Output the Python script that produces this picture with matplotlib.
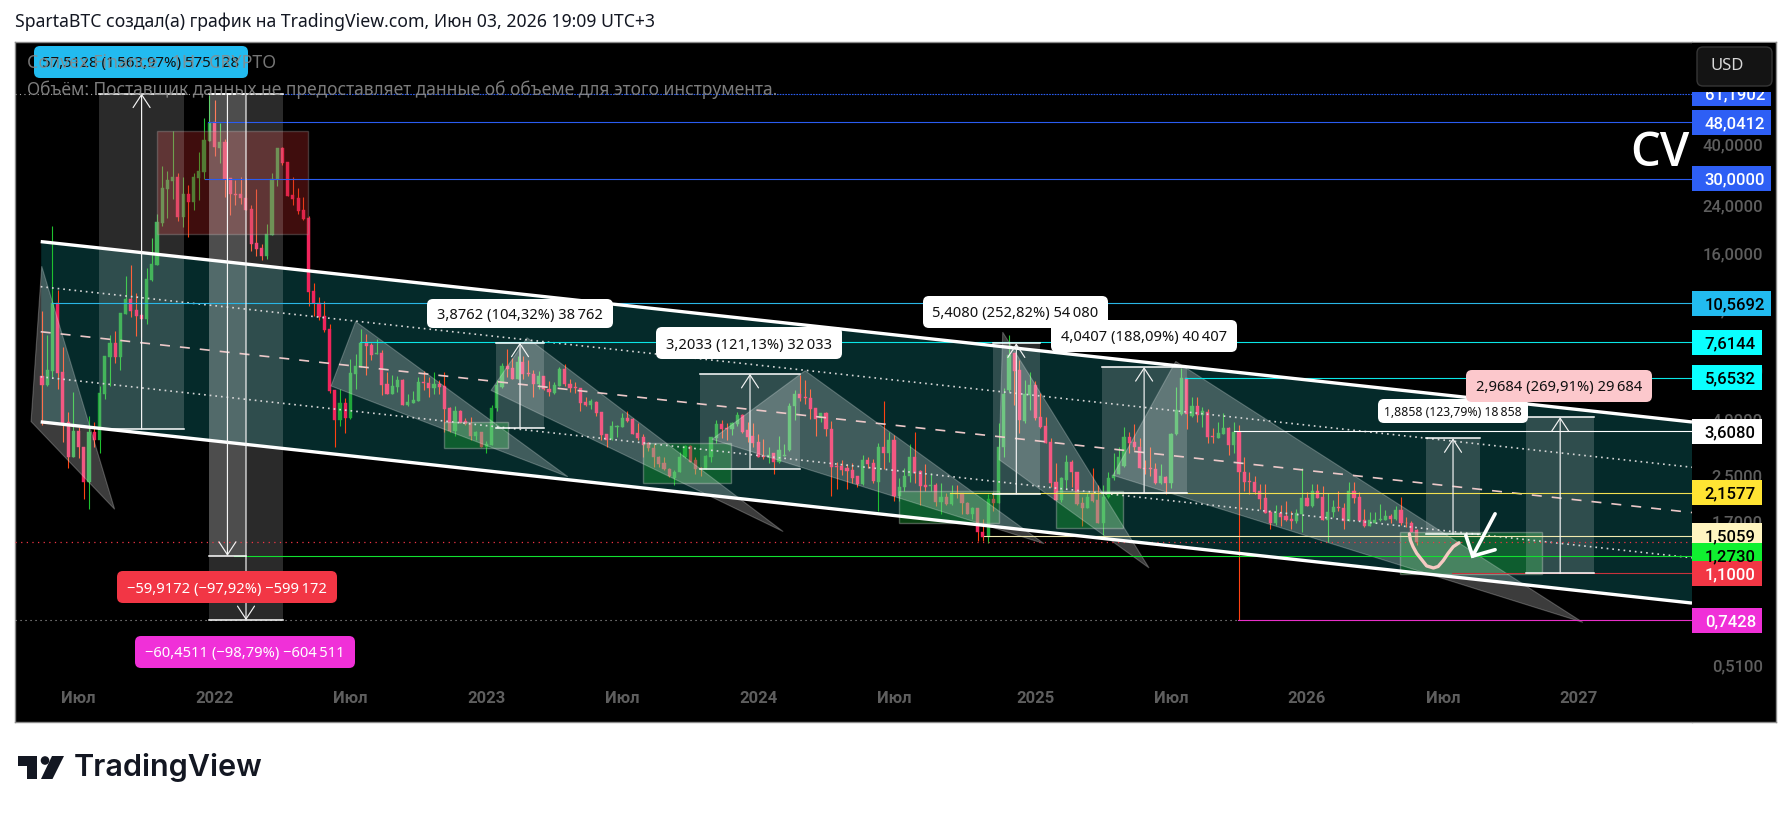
import numpy as np
import matplotlib
matplotlib.use("Agg")
import matplotlib.pyplot as plt
from matplotlib.patches import Rectangle, Polygon, FancyBboxPatch, Circle

plt.rcParams['font.family'] = ['Noto Sans', 'DejaVu Sans']

# ---- weekly candles: week index 0 = May 2021 ----
week_high = [9.9,8.09,20.2,11.8,7.33,4.26,5.03,3.75,3.18,4.12,
 3.91,5.29,6.8,8.09,8.38,9.75,13.3,14.5,11.5,10.6,
 14.2,18.2,22.3,33.3,32.0,44.7,31.4,30.5,28.4,31.4,
 37.5,49.9,60.6,57.9,47.8,41.7,30.2,29.7,30.5,30.2,
 24.1,27.5,17.4,20.5,31.4,38.7,39.0,34.5,30.5,27.8,
 25.7,22.0,12.5,11.1,10.8,8.89,5.11,5.15,4.79,6.63,
 6.92,8.52,8.17,7.58,7.83,7.15,5.95,5.8,5.74,5.6,
 4.95,5.07,5.7,6.0,5.7,5.95,5.55,5.95,4.44,4.47,
 4.33,4.05,4.08,3.63,3.6,3.34,4.5,5.55,6.41,7.21,
 6.69,6.8,6.8,6.58,6.05,6.0,5.74,5.51,5.47,6.2,
 6.36,5.6,5.47,5.2,4.83,4.75,4.67,4.26,3.54,3.94,
 3.82,4.22,4.29,4.05,3.88,3.54,3.31,3.25,2.95,2.92,
 2.66,2.62,3.05,3.23,3.23,2.92,2.69,2.97,3.45,3.98,
 3.98,3.88,3.91,4.26,4.19,3.91,3.88,3.54,3.39,3.16,
 3.02,3.48,3.25,4.59,5.11,5.8,5.55,5.15,4.4,4.22,
 4.26,3.94,2.8,2.85,2.74,2.78,2.48,2.97,2.92,2.87,
 3.28,4.67,3.6,3.51,2.44,2.66,3.25,3.6,2.62,2.74,
 2.54,2.35,2.35,2.16,2.31,2.31,2.16,2.0,1.92,1.9,
 1.74,2.14,2.18,3.88,5.2,8.09,6.98,6.58,5.55,5.95,
 5.51,4.99,4.08,3.42,2.78,2.46,2.97,2.83,2.56,2.09,
 2.18,2.66,2.31,2.31,2.56,3.0,3.18,3.75,3.6,3.85,
 3.42,2.85,3.16,2.76,2.74,2.48,3.57,5.24,6.15,5.65,
 4.83,4.83,4.44,4.37,3.72,3.91,4.22,3.75,3.91,3.82,
 2.92,2.56,2.48,2.33,2.33,1.87,1.95,1.95,2.02,1.86,
 1.89,2.66,2.18,2.33,2.33,2.29,2.16,2.03,2.2,1.98,
 2.37,2.37,2.18,1.89,1.84,1.84,1.97,1.87,1.81,1.94,
 2.09,1.76,1.7,1.6]
body_top = [5.74,6.05,10.6,10.6,5.95,3.91,3.63,3.63,3.18,3.60,
 3.6,4.99,6.8,7.58,7.58,9.75,10.9,10.9,10.0,9.59,
 12.9,14.7,20.9,27.8,29.7,30.5,30.5,26.4,26.4,30.5,
 32.0,41.4,47.8,48.2,40.7,40.7,30.2,26.4,26.4,25.5,
 23.3,17.5,16.8,18.9,30.0,38.7,38.7,34.5,26.1,25.5,
 23.1,21.6,11.7,10.6,9.51,8.52,5.11,4.59,4.59,5.9,
 6.26,7.58,7.65,7.46,6.98,6.98,5.38,5.29,5.55,5.55,
 4.63,4.71,5.47,5.47,5.43,5.38,5.38,5.29,4.4,4.29,
 4.29,3.94,3.88,3.6,3.6,3.25,4.4,5.33,6.26,6.26,
 6.15,6.47,6.47,5.9,5.85,5.74,5.74,5.15,5.33,6.1,
 6.1,5.38,5.24,5.2,4.63,4.67,4.63,4.26,3.54,3.79,
 3.79,4.05,4.05,4.01,3.57,3.45,3.28,3.13,2.92,2.76,
 2.64,2.58,2.92,3.2,3.2,2.85,2.66,2.95,3.45,3.85,
 3.85,3.72,3.88,4.15,4.15,3.66,3.48,3.31,2.95,2.97,
 3.0,3.1,2.97,4.47,4.95,4.95,4.83,4.79,4.4,4.22,
 4.22,3.69,2.71,2.71,2.66,2.62,2.48,2.85,2.85,2.76,
 3.16,3.16,3.37,3.37,2.27,2.48,2.92,2.92,2.6,2.31,
 2.31,2.31,2.09,2.09,2.16,2.16,2.16,1.98,1.9,1.9,
 1.56,2.05,2.05,3.18,4.95,6.86,6.98,6.05,4.95,5.33,
 5.33,4.08,3.79,3.31,2.37,2.44,2.8,2.8,2.56,1.98,
 2.09,2.16,2.03,2.09,2.44,2.5,2.92,3.45,3.45,3.31,
 3.18,2.66,2.66,2.64,2.48,2.46,3.54,4.33,5.65,5.65,
 4.47,4.47,4.29,4.26,3.48,3.57,3.72,3.72,3.6,3.6,
 2.58,2.39,2.37,2.2,2.07,1.84,1.83,1.83,1.78,1.74,
 1.83,2.07,2.07,2.2,2.2,2.09,1.84,1.92,1.92,1.9,
 2.2,2.2,2.09,1.72,1.72,1.72,1.74,1.78,1.78,1.87,
 1.87,1.68,1.67,1.58]
body_bottom = [5.33,5.33,6.0,5.9,3.88,2.92,2.92,3.16,2.37,2.37,
 3.37,3.37,4.95,6.74,6.74,6.74,9.67,9.9,9.51,9.27,
 9.27,12.8,14.6,20.7,27.5,29.4,21.8,21.8,24.7,24.7,
 30.2,31.7,41.0,39.0,38.7,30.0,26.4,26.1,25.5,23.1,
 17.4,16.7,15.7,15.7,18.7,30.0,34.2,25.9,25.3,22.9,
 21.4,11.6,10.6,9.43,8.45,5.07,3.98,3.98,4.05,4.05,
 5.85,6.2,7.4,6.86,6.92,5.33,4.95,4.95,5.24,4.5,
 4.5,4.59,4.67,5.43,5.2,5.2,5.24,4.37,3.63,3.63,
 3.88,3.85,3.48,3.48,3.18,3.18,3.23,4.4,5.24,6.1,
 5.6,5.6,5.85,5.85,5.38,5.38,5.15,5.03,4.99,5.29,
 5.38,5.2,5.2,4.59,4.5,4.5,4.22,3.51,3.37,3.39,
 3.75,3.75,3.94,3.54,3.42,3.23,3.13,2.92,2.74,2.64,
 2.48,2.44,2.56,2.92,2.8,2.64,2.64,2.64,2.92,3.42,
 3.69,3.69,3.69,3.85,3.6,3.45,3.28,2.92,2.92,2.92,
 2.8,2.8,2.95,3.1,4.47,4.79,4.79,4.37,4.01,4.05,
 3.69,2.69,2.69,2.62,2.6,2.44,2.33,2.33,2.74,2.39,
 2.37,3.02,3.02,2.11,2.11,2.27,2.48,2.54,2.29,2.27,
 2.29,2.0,2.0,1.97,1.97,2.14,1.98,1.81,1.81,1.55,
 1.49,1.49,1.98,1.98,3.18,5.11,6.0,3.98,3.94,4.9,
 4.05,3.75,3.28,2.35,2.03,2.03,2.41,2.56,1.97,1.9,
 1.9,2.02,1.68,1.68,2.09,2.44,2.52,2.71,3.28,3.16,
 2.66,2.64,2.64,2.35,2.35,2.35,2.35,3.54,4.19,4.19,
 4.12,4.15,4.15,3.45,3.45,3.42,3.54,3.23,3.23,2.56,
 2.37,2.37,2.18,2.05,1.83,1.67,1.67,1.76,1.72,1.7,
 1.7,1.81,1.94,1.94,2.07,1.72,1.72,1.84,1.9,1.71,
 1.71,2.07,1.71,1.63,1.63,1.68,1.72,1.72,1.74,1.74,
 1.67,1.67,1.56,1.43]
week_low = [3.82,5.29,5.7,5.15,3.31,2.66,2.92,2.89,2.05,1.89,
 3.18,3.02,4.75,5.29,6.41,6.05,9.67,9.43,8.05,7.98,
 8.89,12.7,14.6,20.2,21.6,25.3,21.1,20.0,18.4,23.1,
 25.1,30.0,41.0,36.2,34.2,25.7,22.2,24.1,24.3,23.1,
 16.4,15.7,15.2,15.3,18.7,28.1,33.6,25.9,24.1,22.3,
 21.2,10.3,9.51,9.2,8.31,4.99,3.16,3.79,3.57,4.01,
 5.15,6.2,5.8,6.58,6.92,4.9,4.95,4.95,5.03,4.5,
 4.47,4.59,4.67,5.11,4.83,4.95,4.95,3.6,3.6,3.48,
 3.88,3.82,3.37,3.37,3.18,3.0,3.23,4.29,5.2,5.7,
 5.6,5.6,5.6,5.74,4.83,5.15,5.11,4.87,4.95,5.29,
 5.29,5.03,4.99,4.29,4.47,4.37,4.12,3.37,3.16,3.37,
 3.45,3.75,3.91,3.54,3.37,2.92,3.07,2.69,2.69,2.62,
 2.46,2.31,2.56,2.89,2.8,2.52,2.48,2.64,2.8,3.28,
 3.42,3.37,3.51,3.79,3.57,3.31,3.16,2.92,2.87,2.78,
 2.52,2.78,2.95,3.07,3.98,4.67,4.54,4.01,3.48,3.91,
 3.48,2.11,2.23,2.5,2.22,2.35,2.27,2.31,2.66,2.35,
 1.86,2.64,2.8,2.02,2.02,2.2,2.37,2.35,1.95,2.2,
 2.2,1.94,1.8,1.95,1.95,2.07,1.8,1.8,1.74,1.44,
 1.44,1.42,1.86,1.98,2.92,5.03,4.5,3.57,3.88,4.33,
 3.98,3.72,3.28,2.27,2.03,2.0,2.22,2.27,1.95,1.63,
 1.9,2.0,1.67,1.51,2.07,2.41,2.52,2.69,3.02,3.1,
 2.66,2.52,2.48,2.33,2.33,2.14,2.25,3.51,4.15,3.69,
 4.08,3.91,3.75,3.28,3.28,3.42,3.54,2.97,3.02,0.7428,
 2.2,2.14,2.14,1.89,1.83,1.59,1.65,1.63,1.7,1.59,
 1.68,1.56,1.94,1.92,2.07,1.72,1.43,1.76,1.86,1.6,
 1.7,1.98,1.71,1.62,1.63,1.68,1.71,1.72,1.68,1.72,
 1.65,1.62,1.56,1.39]
week_dir = ("DUUDDDUDDU" "DUUUDUUDDD" "UUUUUUDUDU" "UUUDUDDDDD" "DDDUUUDDDD"
            "DDDDDDDUDU" "UUDDUDDUUD" "UUUDDUDDDU" "DDDUDUUUUD" "DUDDDUDDUU"
            "DDDDDUDDDU" "UUDDDDDDDD" "DUUUDDDUUU" "DDUUDDDDDU" "DUUUUDDDDU"
            "DDDDDDDUDD" "UDUDUUUDDD" "UDUDUDDDUD" "DUDUUUDDUU" "DDDDDUUDDD"
            "UDDUUUUUDD" "DDDDUDUUUD" "UDUDDUUDUD" "DDDDDDUDDD" "UUDUDDUUDD"
            "UDDDUUUUDU" "DDDD")

# ---- channel (week, price at upper / lower rail) ----
channel_weeks = [-0.25, 315.67]
channel_upper = [17.7, 3.906]
channel_lower = [3.91, 0.857]

# ---- price levels: value, first week, colour ----
level_values = [61.1902, 48.0412, 30.0, 10.5692, 7.6144, 5.6532, 3.608, 2.1577, 1.5059, 1.273, 1.1, 0.7428]
level_start = [46.0, 31.8, 31.2, 1.9, 60.8, 218.7, 228.0, 173.7, 180.2, 36.7, 269.8, 228.8]
level_colors = ['#2a5cf0','#2a5cf0','#2a5cf0','#29b6e6','#0ae6e6','#0ae6e6','#ffffff','#f2e050','#f2eab0','#12e030','#c8323c','#e82fc8']
level_label_text = ['61,1902','48,0412','30,0000','10,5692','7,6144','5,6532','3,6080','2,1577','1,5059','1,2730','1,1000','0,7428']
level_label_bg = ['#2e5ff5','#2e5ff5','#2e5ff5','#22bbf0','#0affff','#0affff','#ffffff','#ffe433','#fff5c0','#10f030','#f23645','#f030d8']
level_label_fg = ['white','white','white','black','black','black','black','black','black','black','white','white']
last_price = 1.427
low_dotted = 0.7428

# ---- measure boxes: week range, base and target price ----
measure_left = [10.9, 86.9, 125.9, 181.9, 202.7, 264.8, 283.9]
measure_right = [27.2, 96.0, 145.0, 190.9, 219.0, 275.1, 297.0]
measure_base = [3.6774, 3.7157, 2.6445, 2.1391, 2.1483, 1.5234, 1.0998]
measure_top = [61.1902, 7.5919, 5.8478, 7.5471, 6.189, 3.4092, 4.0682]
drop_left = [31.95, 31.95]
drop_right = [39.0, 46.1]
drop_start = [61.1902, 61.1902]
drop_end = [1.273, 0.7428]

# ---- zones: week range, upper and lower price ----
sell_zone = [22.06, 50.95, 44.6, 18.8]
buy_left = [77.0, 115.0, 164.0, 193.9, 259.9]
buy_right = [89.1, 131.9, 183.0, 206.9, 286.9]
buy_upper = [3.90, 3.28, 2.20, 2.20, 1.555]
buy_lower = [3.13, 2.34, 1.67, 1.61, 1.095]

# ---- triangles: three (week, price) corners ----
tri_weeks = [[-0.06,-2.1,13.9],[60.0,55.3,100.6],[92.8,85.9,141.8],[146.0,128.2,191.7],[183.8,183.1,211.8],[216.9,204.9,294.8]]
tri_prices = [[14.4,3.92,1.88],[9.06,5.28,2.47],[7.91,5.09,1.56],[6.0,3.38,1.41],[8.29,2.85,1.15],[6.49,2.50,0.729]]

# ---- hand drawn sketch ----
sketch_weeks = [261.6,261.8,262.3,263,264,264.9,266.2,267.1,268.1,269,270,271.1]
sketch_prices = [1.53,1.45,1.375,1.30,1.23,1.17,1.15,1.165,1.225,1.30,1.375,1.42]
pen_shaft_weeks = [278.0, 273.7]
pen_shaft_prices = [1.81, 1.27]
pen_barb_weeks = [272.4, 273.7, 278.0]
pen_barb_prices = [1.51, 1.27, 1.34]

# ---- axes labels ----
x_ticks = [7,33,59,85,111,137,163,190,216,242,268,294]
x_labels = ['Июл','2022','Июл','2023','Июл','2024','Июл','2025','Июл','2026','Июл','2027']
y_ticks = [40,24,16,10,6,4,2.5,1.7,0.51]
y_labels = ['40,0000','24,0000','16,0000','10,0000','6,0000','4,0000','2,5000','1,7000','0,5100']

W, H = 1791, 814
BLACK = 'black'
AXIS_FONT = ['Roboto', 'DejaVu Sans']
fig = plt.figure(figsize=(W/100, H/100), dpi=100, facecolor='white')
def frac(x0, y0, x1, y1):
    return [x0/W, 1-y1/H, (x1-x0)/W, (y1-y0)/H]

ax = fig.add_axes(frac(15, 42, 1692, 722), facecolor=BLACK)
ax_r = fig.add_axes(frac(1692, 42, 1776, 722), facecolor=BLACK)
ov = fig.add_axes([0, 0, 1, 1], facecolor='none')
ov.set_xlim(0, W); ov.set_ylim(H, 0); ov.axis('off')

YLIM = (0.3165, 94.2)
XLIM = (-5.17, 315.67)
for a in (ax, ax_r):
    a.set_yscale('log'); a.set_ylim(*YLIM)
    a.minorticks_off()
ax.set_xlim(*XLIM)
ax_r.set_xlim(0, 84)

# channel
cu = np.array(channel_upper); cl = np.array(channel_lower)
ax.fill_between(channel_weeks, cl, cu, color='#052a2a', lw=0, zorder=1)
# candles
wk = np.arange(len(week_high))
up = np.array([c == 'U' for c in week_dir])
hi, lo, bt, bb = map(np.array, (week_high, week_low, body_top, body_bottom))
for mask, wick, body in ((up, '#1ec02e', '#1fa63a'), (~up, '#ff4212', '#f0245c')):
    ax.vlines(wk[mask], lo[mask], hi[mask], color=wick, lw=0.8, zorder=2)
    ax.bar(wk[mask], bt[mask]-bb[mask], bottom=bb[mask], width=0.6, color=body,
           edgecolor=body, linewidth=0.3, zorder=2.1)

# zones
x0, x1, yt, yb = sell_zone
ax.add_patch(Rectangle((x0, yb), x1-x0, yt-yb, fc='#c02828', ec='#999999', alpha=0.33, lw=1, zorder=3))
for l, r, t, b in zip(buy_left, buy_right, buy_upper, buy_lower):
    ax.add_patch(Rectangle((l, b), r-l, t-b, fc='#1fb83a', ec='#cccccc', alpha=0.36, lw=1, zorder=3))
# triangles
for tw, tp in zip(tri_weeks, tri_prices):
    ax.add_patch(Polygon(np.c_[tw, tp], closed=True, fc='white', ec='white', alpha=0.24, lw=0.8, zorder=3.1))

# channel rails
cm = np.sqrt(cu*cl)
cq1 = np.sqrt(cu*cm); cq3 = np.sqrt(cm*cl)
ax.plot(channel_weeks, cu, color='white', lw=2.4, zorder=5, solid_capstyle='butt')
ax.plot(channel_weeks, cl, color='white', lw=2.4, zorder=5, solid_capstyle='butt')
ax.plot(channel_weeks, cq1, color='#d8d8d8', lw=1.2, ls=(0, (1, 2.4)), zorder=4)
ax.plot(channel_weeks, cq3, color='#d8d8d8', lw=1.2, ls=(0, (1, 2.4)), zorder=4)
ax.plot(channel_weeks, cm, color='#ecc8c8', lw=1.2, ls=(0, (6, 6)), zorder=4)

# levels
for v, s, c in zip(level_values, level_start, level_colors):
    if v == level_values[0]:
        ax.plot([s, XLIM[1]], [v, v], color=c, lw=0.8, ls=(0, (1.5, 1)), zorder=4)
        ax.plot([XLIM[0], s], [v, v], color='#aaaaaa', lw=0.8, ls=(0, (1, 3)), zorder=4)
    else:
        ax.plot([s, XLIM[1]], [v, v], color=c, lw=0.8, zorder=4)
ax.plot(XLIM, [last_price]*2, color='#f23645', lw=0.9, ls=(0, (1, 3.5)), zorder=4)
ax.plot([XLIM[0], level_start[-1]], [low_dotted]*2, color='#aaaaaa', lw=0.8, ls=(0, (1, 3.5)), zorder=4)

# measure tools
arrow = dict(arrowstyle='->,head_length=0.55,head_width=0.36', color='#f4f4f4', lw=0.85,
             shrinkA=0, shrinkB=0, mutation_scale=17)
for l, r, b, t in zip(measure_left, measure_right, measure_base, measure_top):
    ax.add_patch(Rectangle((l, b), r-l, t-b, fc='white', ec='none', alpha=0.17, zorder=3.2))
    ax.plot([l, r], [t, t], color='white', lw=1.1, zorder=5)
    ax.plot([l, r], [b, b], color='white', lw=1.1, zorder=5)
    ax.annotate('', xy=((l+r)/2, t), xytext=((l+r)/2, b), arrowprops=arrow, zorder=5)
for l, r, s, e in zip(drop_left, drop_right, drop_start, drop_end):
    ax.add_patch(Rectangle((l, e), r-l, s-e, fc='white', ec='none', alpha=0.17, zorder=3.2))
    ax.plot([l, r], [s, s], color='white', lw=1.1, zorder=5)
    ax.plot([l, r], [e, e], color='white', lw=1.1, zorder=5)
    ax.annotate('', xy=((l+r)/2, e), xytext=((l+r)/2, s), arrowprops=arrow, zorder=5)

# sketch
ax.plot(sketch_weeks, sketch_prices, color='#f6c9c2', lw=2.4, zorder=6, solid_capstyle='round')
ax.plot(pen_shaft_weeks, pen_shaft_prices, color='white', lw=2.6, zorder=6, solid_capstyle='round')
ax.plot(pen_barb_weeks, pen_barb_prices, color='white', lw=2.6, zorder=6, solid_capstyle='round', solid_joinstyle='miter')

# axes cosmetics
ax.set_xticks(x_ticks)
ax.set_xticklabels(x_labels, fontsize=12, fontweight='bold', color='#5e5e5e', family=AXIS_FONT)
ax.tick_params(axis='x', length=0, pad=-22)
ax.set_yticks([]); ax.tick_params(axis='y', which='both', length=0, labelleft=False)
for s in ax.spines.values():
    s.set_color('#8a8a8a'); s.set_linewidth(1)
ax.spines['right'].set_visible(False)

ax_r.set_axisbelow(True)
ax_r.set_xticks([])
ax_r.set_yticks(y_ticks)
ax_r.set_yticklabels(y_labels, fontsize=12, color='#5e5e5e', fontweight=500, family=AXIS_FONT)
ax_r.tick_params(axis='y', which='both', length=0, pad=-51)
for s in ax_r.spines.values():
    s.set_color('#8a8a8a'); s.set_linewidth(1)
ax_r.spines['left'].set_visible(False)

PX_PER_LOG = 119.4
half = np.exp(12.5/PX_PER_LOG)
for v, t, bg, fg in zip(level_values, level_label_text, level_label_bg, level_label_fg):
    w = 79 if v > 8 else 70
    ax_r.add_patch(Rectangle((0, v/half), w, v*half-v/half, fc=bg, ec='none', zorder=3))
    ax_r.text(12.7, v, t, ha='left', va='center_baseline', fontsize=12, fontweight=500,
              family=AXIS_FONT, color=fg, zorder=4)

# ---- overlay: title, pills, legend text, logo ----
ov.text(15, 22, 'SpartaBTC создал(а) график на TradingView.com, Июн 03, 2026 19:09 UTC+3',
        fontsize=12.7, color='#131722', va='center', ha='left')

def pill(x0, y0, x1, y1, txt, bg, fg, size=11):
    ov.add_patch(FancyBboxPatch((x0, y0), x1-x0, y1-y0, boxstyle='round,pad=0,rounding_size=6',
                                mutation_scale=1, fc=bg, ec='none', zorder=6))
    ov.text((x0+x1)/2, (y0+y1)/2, txt, ha='center', va='center_baseline', fontsize=size, color=fg, zorder=7)

pill(34, 46, 248, 78, '57,5128 (1\u2009563,97%) 575\u2009128', '#22bbf0', '#111111', size=10.8)
pill(117, 571, 337, 603, '\u221259,9172 (\u221297,92%) \u2212599\u2009172', '#f23645', 'white', size=10.6)
pill(135, 636, 355, 668, '\u221260,4511 (\u221298,79%) \u2212604\u2009511', '#f030d8', 'white', size=10.6)
pill(427, 299, 613, 328, '3,8762 (104,32%) 38\u2009762', 'white', '#111111', size=10.6)
pill(656, 327, 842, 359, '3,2033 (121,13%) 32\u2009033', 'white', '#111111', size=10.6)
pill(923, 296, 1108, 328, '5,4080 (252,82%) 54\u2009080', 'white', '#111111', size=10.6)
pill(1051, 320, 1237, 352, '4,0407 (188,09%) 40\u2009407', 'white', '#111111', size=10.6)
pill(1378, 399, 1528, 423, '1,8858 (123,79%) 18\u2009858', 'white', '#111111', size=8.8)
pill(1466, 370, 1652, 402, '2,9684 (269,91%) 29\u2009684', '#fcc8cc', '#111111', size=10.6)

ov.text(27, 63, 'Convex Finance · 1Н · CRYPTO', fontsize=12.8, color='#8a8a8a', va='center', zorder=8, alpha=0.85)
ov.text(27, 90, 'Объём: Поставщик данных не предоставляет данные об объеме для этого инструмента.',
        fontsize=12.5, color='#8a8a8a', va='center', zorder=8, alpha=0.9)
ov.text(1660, 154, 'CV', fontsize=34, color='white', ha='center', va='center', zorder=8,
        family=['Open Sans','DejaVu Sans'], fontweight='semibold')

ov.add_patch(Rectangle((1692, 43), 83, 49, fc='black', ec='none', zorder=8))
ov.add_patch(FancyBboxPatch((1697, 47), 75, 39, boxstyle='round,pad=0,rounding_size=6',
                            mutation_scale=1, fc='#141414', ec='#363636', lw=1, zorder=9))
ov.text(1727, 66.5, 'USD', fontsize=12, color='#d8d8d8', ha='center', va='center', zorder=10)

logo = '#131722'
ov.add_patch(Polygon([(18,756),(37,756),(37,779),(27,779),(27,766),(18,766)], fc=logo, ec='none'))
ov.add_patch(Circle((45,760.5), 4.3, fc=logo, ec='none'))
ov.add_patch(Polygon([(52,756),(64,756),(52.5,779),(41,779)], fc=logo, ec='none'))
ov.text(74, 768, 'TradingView', fontsize=22, color=logo, family=['Inter','DejaVu Sans'], fontweight=600, va='center', ha='left')

fig.savefig('out.png', dpi=100, facecolor='white')
